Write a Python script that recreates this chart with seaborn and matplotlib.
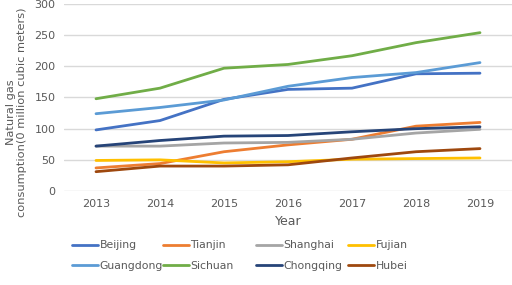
import numpy as np
import pandas as pd
import matplotlib
matplotlib.use("Agg")
import matplotlib.pyplot as plt
import seaborn as sns

years = [2013, 2014, 2015, 2016, 2017, 2018, 2019]
beijing = [98, 113, 147, 163, 165, 188, 189]
tianjin = [37, 44, 63, 74, 83, 104, 110]
shanghai = [72, 72, 77, 78, 83, 93, 99]
fujian = [49, 50, 45, 47, 51, 52, 53]
guangdong = [124, 134, 146, 168, 182, 190, 206]
sichuan = [148, 165, 197, 203, 217, 238, 254]
chongqing = [72, 81, 88, 89, 95, 100, 103]
hubei = [31, 40, 40, 42, 53, 63, 68]

regions = ["Beijing", "Tianjin", "Shanghai", "Fujian",
           "Guangdong", "Sichuan", "Chongqing", "Hubei"]
series = [beijing, tianjin, shanghai, fujian, guangdong, sichuan, chongqing, hubei]
colors = ["#4472C4", "#ED7D31", "#A5A5A5", "#FFC000",
          "#5B9BD5", "#70AD47", "#264478", "#9E480E"]

df = pd.DataFrame({
    "Year": [str(y) for y in years] * len(regions),
    "Region": np.repeat(regions, len(years)),
    "Value": np.concatenate(series),
})

sns.set_theme(style="white")
plt.rcParams["font.family"] = ["DejaVu Sans"]

fig = plt.figure(figsize=(5.12, 2.85), dpi=100)
ax = fig.add_axes([64 / 512, 1 - 191 / 285, 1 - 64 / 512, (191 - 4) / 285])

sns.lineplot(data=df, x="Year", y="Value", hue="Region", hue_order=regions,
             palette=colors, linewidth=2.0, ax=ax, legend=False, sort=False)

ax.set_xlim(-0.5, 6.5)
ax.set_ylim(0, 300)
ax.set_yticks(range(0, 301, 50))
ax.yaxis.grid(True, color="#D9D9D9", linewidth=1.0)
ax.set_axisbelow(True)
for s in ax.spines.values():
    s.set_visible(False)
ax.tick_params(axis="both", length=0, labelsize=8, colors="#595959", pad=6)
ax.set_xlabel("Year", fontsize=9, color="#595959", labelpad=4)
ax.set_ylabel("Natural gas\nconsumption(0 million cubic meters)", fontsize=8.2,
              color="#595959", linespacing=1.1)
ax.yaxis.set_label_coords(-0.083, 0.42)

# legend: fixed-width columns, filled row by row like the original
col_x = [68, 159, 252, 344]
for c, x in enumerate(col_x):
    idx = [c, c + 4]
    handles = [plt.Line2D([], [], color=colors[i], linewidth=2.0) for i in idx]
    leg = fig.legend(handles, [regions[i] for i in idx], loc="upper left",
                     bbox_to_anchor=(x / 512, 1 - 236 / 285), frameon=False,
                     fontsize=7.8, handlelength=2.4, handletextpad=0.1,
                     labelspacing=0.95, labelcolor="#595959",
                     borderaxespad=0)

fig.savefig("out.png", dpi=100)
